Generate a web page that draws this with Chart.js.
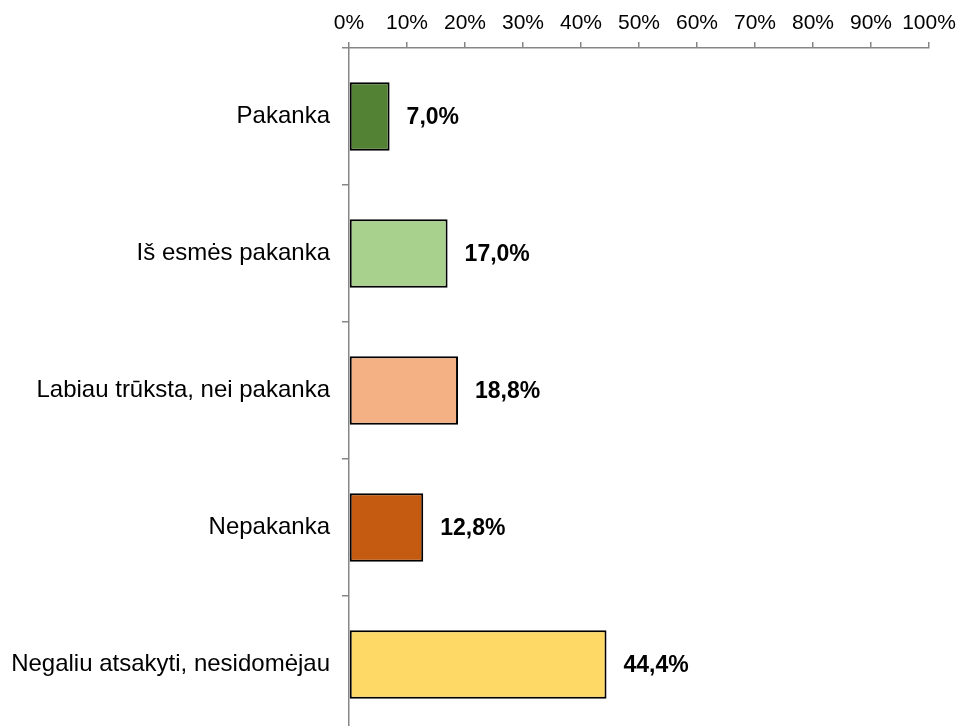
<!DOCTYPE html>
<html>
<head>
<meta charset="utf-8">
<script src="https://cdn.jsdelivr.net/npm/chart.js@4/dist/chart.umd.min.js"></script>
<style>
    html, body { margin: 0; padding: 0; background: #fff; overflow: hidden; }
    canvas { display: block; }
</style>
</head>
<body>
<canvas id="answersChart" width="958" height="733"></canvas>
<script>
// duomenys
const categories = ['Pakanka', 'Iš esmės pakanka', 'Labiau trūksta, nei pakanka', 'Nepakanka', 'Negaliu atsakyti, nesidomėjau'];
const shares = [7.0, 17.0, 18.8, 12.8, 44.4];
const barColors = ['#548235', '#A9D18E', '#F4B183', '#C55A11', '#FFD966'];
const tickStep = 10;
const axisMax = 100;

const fmtPct = v => v.toFixed(1).replace('.', ',') + '%';
const fontFamily = '"Liberation Sans", Arial, sans-serif';

// reikšmės šalia stulpelių
const valueLabels = {
    id: 'valueLabels',
    afterDatasetsDraw(chart) {
        const ctx = chart.ctx;
        const meta = chart.getDatasetMeta(0);
        ctx.save();
        ctx.font = 'bold 23px ' + fontFamily;
        ctx.fillStyle = '#000';
        ctx.textAlign = 'left';
        ctx.textBaseline = 'middle';
        meta.data.forEach((bar, i) => {
            ctx.fillText(fmtPct(shares[i]), bar.x + 17, bar.y + 1);
        });
        ctx.restore();
    }
};

const axisGray = '#868686';

new Chart(document.getElementById('answersChart'), {
    type: 'bar',
    data: {
        labels: categories,
        datasets: [{
            data: shares,
            backgroundColor: barColors,
            borderColor: '#000',
            borderWidth: 2,
            borderSkipped: false,
            categoryPercentage: 1,
            barPercentage: 0.5
        }]
    },
    options: {
        indexAxis: 'y',
        responsive: false,
        animation: false,
        layout: { padding: { left: 0, right: 29, top: 0, bottom: 0 } },
        plugins: {
            legend: { display: false },
            tooltip: { enabled: false }
        },
        scales: {
            x: {
                position: 'top',
                min: 0,
                max: axisMax,
                afterFit: s => { s.height = 48; s.paddingLeft = 0; s.paddingRight = 0; },
                border: { color: axisGray, width: 1.5 },
                grid: { drawOnChartArea: false, drawTicks: true, tickLength: 6, color: axisGray, lineWidth: 1.5 },
                ticks: {
                    stepSize: tickStep,
                    padding: 6,
                    maxRotation: 0,
                    minRotation: 0,
                    autoSkip: false,
                    color: '#000',
                    font: { family: fontFamily, size: 21 },
                    callback: v => v + '%'
                }
            },
            y: {
                afterFit: s => { s.width = 349; s.paddingTop = 0; s.paddingBottom = 0; },
                border: { color: axisGray, width: 1.5 },
                grid: { offset: true, drawOnChartArea: false, drawTicks: true, tickLength: 7, color: axisGray, lineWidth: 1.5 },
                ticks: {
                    padding: 12,
                    color: '#000',
                    font: { family: fontFamily, size: 24 }
                }
            }
        }
    },
    plugins: [valueLabels]
});
</script>
</body>
</html>
